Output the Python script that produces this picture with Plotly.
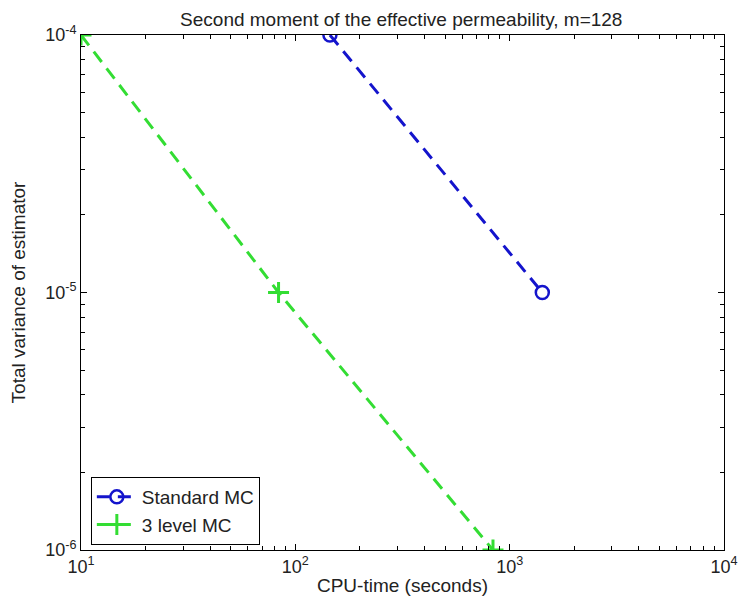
import plotly.graph_objects as go

# CPU time (seconds) versus total estimator variance
std_time = [145, 1420]
std_var = [1e-4, 1e-5]
ml_time = [10, 83.5, 836]
ml_var = [1e-4, 1e-5, 1e-6]

x_major = [10, 100, 1000, 10000]
x_major_text = ["10<sup>1</sup>", "10<sup>2</sup>", "10<sup>3</sup>", "10<sup>4</sup>"]
y_major = [1e-6, 1e-5, 1e-4]
y_major_text = ["10<sup>-6</sup>", "10<sup>-5</sup>", "10<sup>-4</sup>"]

x_minor = [m * 10 ** e for e in (1, 2, 3) for m in range(2, 10)]
y_minor = [m * 10 ** e for e in (-6, -5) for m in range(2, 10)]

FONT = "Liberation Sans, Arial, sans-serif"
TEXT = "#222222"
BLUE = "#1414cc"
GREEN = "#33dd33"

fig = go.Figure()
fig.add_trace(go.Scatter(
    x=std_time, y=std_var, name="Standard MC", mode="lines+markers",
    line=dict(color=BLUE, width=3, dash="13px,8px"),
    marker=dict(symbol="circle-open", size=13, color=BLUE, line=dict(width=2.5)),
))
fig.add_trace(go.Scatter(
    x=ml_time, y=ml_var, name="3 level MC", mode="lines+markers",
    line=dict(color=GREEN, width=3, dash="13px,8px"),
    marker=dict(symbol="cross-thin-open", size=15, color=GREEN, line=dict(width=3)),
))

axis_common = dict(
    type="log", showgrid=False, zeroline=False,
    showline=True, linecolor="black", linewidth=1, mirror="allticks",
    ticks="inside", ticklen=6, tickcolor="black", tickwidth=1,
    tickfont=dict(family=FONT, size=18, color=TEXT),
)

fig.update_xaxes(
    **axis_common,
    range=[1, 4], tickvals=x_major, ticktext=x_major_text,
    minor=dict(tickvals=x_minor, ticks="inside", ticklen=4, tickcolor="black"),
    title=dict(text="CPU-time (seconds)", font=dict(family=FONT, size=19, color=TEXT), standoff=3),
)
fig.update_yaxes(
    **axis_common,
    range=[-6, -4], tickvals=y_major, ticktext=y_major_text,
    minor=dict(tickvals=y_minor, ticks="inside", ticklen=4, tickcolor="black"),
    title=dict(text="Total variance of estimator", font=dict(family=FONT, size=19, color=TEXT), standoff=14),
)

fig.update_layout(
    width=750, height=612,
    margin=dict(l=81, r=15, t=35, b=62),
    paper_bgcolor="white", plot_bgcolor="white",
    title=dict(text="Second moment of the effective permeability, m=128",
               x=0.535, xanchor="center", y=0.969, yanchor="middle",
               font=dict(family=FONT, size=19, color=TEXT)),
    legend=dict(x=0.0153, y=0.1417, xanchor="left", yanchor="top",
                bgcolor="white", bordercolor="black", borderwidth=1,
                font=dict(family=FONT, size=19, color=TEXT),
                itemwidth=40),
    showlegend=True,
)

fig.write_html("out.html")
